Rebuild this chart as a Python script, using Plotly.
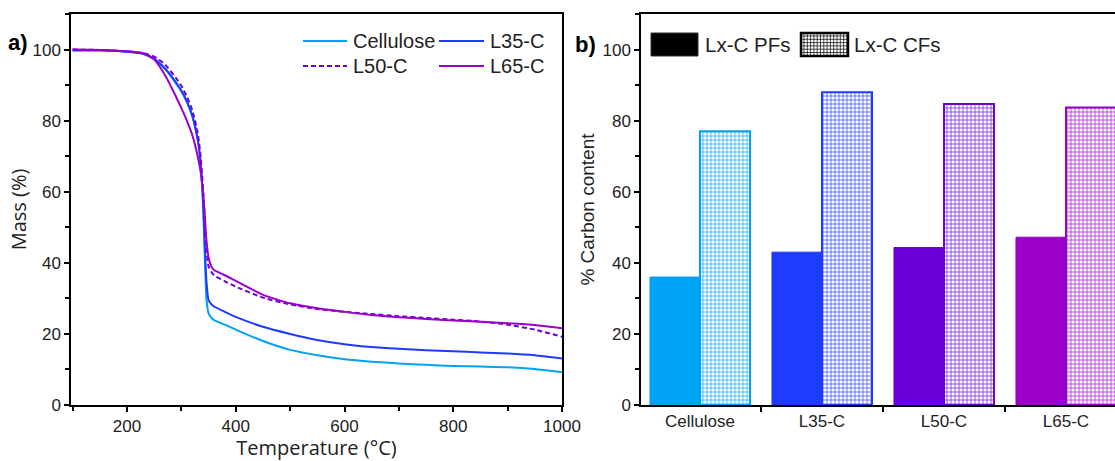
import plotly.graph_objects as go

# ---------------- data ----------------
temperature = [100, 150, 200, 230, 250, 270, 290, 300, 310, 320, 330, 335, 340, 343, 346,
               350, 355, 360, 380, 400, 450, 500, 550, 600, 650, 700, 750, 800, 850, 900, 950, 1000]
mass_cellulose = [99.7, 99.7, 99.4, 98.8, 97.3, 94.5, 90.5, 88.2, 85.2, 81.2, 74.5, 68.5, 56.0, 42.0, 30.0,
                  25.8, 24.6, 23.9, 22.6, 21.2, 18.0, 15.5, 14.0, 12.9, 12.2, 11.7, 11.3, 11.0, 10.8, 10.6, 10.1, 9.2]
mass_l35 = [99.8, 99.8, 99.4, 98.8, 97.4, 94.7, 90.8, 88.5, 85.5, 81.5, 74.8, 68.8, 57.0, 45.0, 35.0,
            29.5, 28.4, 27.7, 26.2, 24.8, 22.0, 20.0, 18.3, 17.1, 16.3, 15.8, 15.4, 15.1, 14.8, 14.5, 14.0, 13.1]
mass_l50 = [100.0, 99.9, 99.5, 99.0, 98.0, 95.8, 92.0, 89.8, 86.8, 83.0, 76.5, 70.5, 60.5, 52.0, 44.0,
            39.0, 37.5, 36.5, 34.8, 33.3, 30.2, 28.3, 27.0, 26.2, 25.6, 25.0, 24.5, 24.0, 23.5, 22.6, 21.2, 19.2]
mass_l65 = [100.0, 99.9, 99.5, 98.9, 97.2, 92.8, 86.8, 83.5, 80.0, 76.0, 70.0, 66.0, 59.5, 53.5, 46.5,
            41.5, 39.0, 38.0, 36.5, 34.9, 31.0, 28.6, 27.2, 26.2, 25.3, 24.7, 24.2, 23.8, 23.4, 23.0, 22.5, 21.6]

samples = ["Cellulose", "L35-C", "L50-C", "L65-C"]
carbon_pf = [36.0, 43.0, 44.3, 47.2]
carbon_cf = [77.0, 88.0, 84.7, 83.7]

colors = ["#00A2F6", "#1F3BFF", "#6B00D8", "#9A00C8"]

# ---------------- layout geometry ----------------
W, H = 1115, 461
ML, MR, MT, MB = 71, 0, 14, 56
PW, PH = W - ML - MR, H - MT - MB


def px(x):
    return (x - ML) / PW


def py(y):
    return (H - MB - y) / PH


FONT = "Liberation Sans, Arial, sans-serif"
TFONT = "Open Sans, Liberation Sans, sans-serif"
DASH = "5px,3px"

fig = go.Figure()

series = [("Cellulose", mass_cellulose, colors[0], "solid"),
          ("L35-C", mass_l35, colors[1], "solid"),
          ("L50-C", mass_l50, colors[2], DASH),
          ("L65-C", mass_l65, colors[3], "solid")]
for name, m, c, d in series:
    fig.add_trace(go.Scatter(x=temperature, y=m, mode="lines", name=name,
                             line=dict(color=c, width=2, dash=d, shape="spline", smoothing=0.5),
                             xaxis="x", yaxis="y", showlegend=False))

fig.add_trace(go.Bar(x=samples, y=carbon_pf, name="Lx-C PFs", offsetgroup="pf",
                     marker=dict(color=colors, line=dict(color=colors, width=1)),
                     xaxis="x2", yaxis="y2", showlegend=False))
fig.add_trace(go.Bar(x=samples, y=carbon_cf, name="Lx-C CFs", offsetgroup="cf",
                     marker=dict(color="white", line=dict(color=colors, width=2),
                                 pattern=dict(shape="+", fgcolor=colors, bgcolor="white",
                                              size=4, solidity=0.3, fillmode="replace")),
                     xaxis="x2", yaxis="y2", showlegend=False))

axis_common = dict(showline=True, linecolor="black", linewidth=1.5, ticks="outside",
                   ticklen=5, tickwidth=1.5, tickcolor="black", showgrid=False, zeroline=False,
                   automargin=False,
                   tickfont=dict(family=FONT, size=17, color="#222"))

# right axis: category centre of "Cellulose" sits at x=700 px, 122 px per category
x2_left = (641 - 700) / 122
x2_right = (W - 700) / 122

fig.update_layout(
    width=W, height=H, margin=dict(l=ML, r=MR, t=MT, b=MB, autoexpand=False),
    paper_bgcolor="white", plot_bgcolor="white",
    barmode="group", bargap=0.18, bargroupgap=0,
    showlegend=False,
    xaxis=dict(domain=[0, px(562)], range=[97, 1000], dtick=200, tick0=0,
               mirror=True, minor=dict(dtick=100, ticks="outside", ticklen=4, tickcolor="black"),
               title=dict(text="Temperature (°C)", font=dict(family=TFONT, size=20, color="#222"),
                          standoff=11),
               **axis_common),
    yaxis=dict(range=[0, 110], dtick=20, tick0=0, mirror=True, anchor="x",
               minor=dict(dtick=10, ticks="outside", ticklen=4, tickcolor="black"),
               title=dict(text="Mass (%)", font=dict(family=TFONT, size=20, color="#222"),
                          standoff=0),
               **axis_common),
    xaxis2=dict(domain=[px(641), 1], range=[x2_left, x2_right], anchor="y2", mirror=True,
                tickson="boundaries", **axis_common),
    yaxis2=dict(range=[0, 110], dtick=20, tick0=0, anchor="x2",
                minor=dict(dtick=10, ticks="outside", ticklen=4, tickcolor="black"),
                title=dict(text="% Carbon content", font=dict(family=FONT, size=19, color="#222"),
                           standoff=3),
                **axis_common),
)

ann = []
shapes = []
# panel labels
ann.append(dict(text="<b>a)</b>", x=px(6), y=py(42), xref="paper", yref="paper", xanchor="left",
                yanchor="middle", showarrow=False, font=dict(family=FONT, size=22, color="black")))
ann.append(dict(text="<b>b)</b>", x=px(573), y=py(44), xref="paper", yref="paper", xanchor="left",
                yanchor="middle", showarrow=False, font=dict(family=FONT, size=22, color="black")))

# legend panel a
leg_items = [("Cellulose", colors[0], "solid", 303, 347, 351, 41),
             ("L35-C", colors[1], "solid", 439, 484, 488, 41),
             ("L50-C", colors[2], DASH, 303, 347, 351, 66),
             ("L65-C", colors[3], "solid", 439, 484, 488, 66)]
for name, c, d, x0, x1, xt, yy in leg_items:
    shapes.append(dict(type="line", xref="paper", yref="paper", x0=px(x0), x1=px(x1),
                       y0=py(yy), y1=py(yy), line=dict(color=c, width=2, dash=d)))
    ann.append(dict(text=name, x=px(xt), y=py(yy), xref="paper", yref="paper", xanchor="left",
                    yanchor="middle", showarrow=False, font=dict(family=FONT, size=20, color="#222")))

# legend panel b
bx0, bx1, by0, by1 = 651, 698, 33, 56
shapes.append(dict(type="rect", xref="paper", yref="paper", x0=px(bx0), x1=px(bx1),
                   y0=py(by1), y1=py(by0), fillcolor="black", line=dict(color="#333", width=1)))
ann.append(dict(text="Lx-C PFs", x=px(703), y=py(44), xref="paper", yref="paper", xanchor="left",
                yanchor="middle", showarrow=False, font=dict(family=FONT, size=20.5, color="#222")))
cx0, cx1 = 801, 848
shapes.append(dict(type="rect", xref="paper", yref="paper", x0=px(cx0), x1=px(cx1),
                   y0=py(by1), y1=py(by0), fillcolor="white", line=dict(color="black", width=2.5)))
gx = cx0 + 3
while gx < cx1 - 1:
    shapes.append(dict(type="line", xref="paper", yref="paper", x0=px(gx), x1=px(gx),
                       y0=py(by1), y1=py(by0), line=dict(color="black", width=0.7)))
    gx += 3.3
gy = by0 + 3
while gy < by1 - 1:
    shapes.append(dict(type="line", xref="paper", yref="paper", x0=px(cx0), x1=px(cx1),
                       y0=py(gy), y1=py(gy), line=dict(color="black", width=0.7)))
    gy += 3.3
ann.append(dict(text="Lx-C CFs", x=px(852), y=py(44), xref="paper", yref="paper", xanchor="left",
                yanchor="middle", showarrow=False, font=dict(family=FONT, size=20.5, color="#222")))

fig.update_layout(annotations=ann, shapes=shapes)
# place the figure flush with the window edges (no default page margin)
fig.write_html("out.html", config={"displayModeBar": False},
               post_script="document.documentElement.style.margin='0';"
                           "document.body.style.margin='0';"
                           "document.documentElement.style.overflow='hidden';"
                           "document.body.style.overflow='hidden';")
